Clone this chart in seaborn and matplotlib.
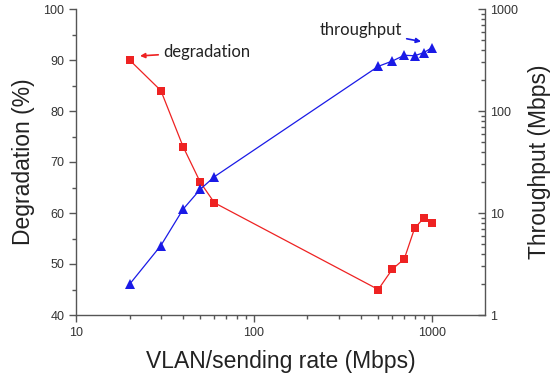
import matplotlib
matplotlib.use("Agg")
import matplotlib.pyplot as plt
import seaborn as sns
import pandas as pd
import numpy as np

rate = [20, 30, 40, 50, 60, 500, 600, 700, 800, 900, 1000]
degradation = [90, 84, 73, 66, 62, 45, 49, 51, 57, 59, 58]
throughput = [2.0, 4.8, 10.9, 17.1, 22.7, 274, 309, 352, 348, 373, 417]

df = pd.DataFrame({"rate": rate, "degradation": degradation, "throughput": throughput})

sns.set_theme(style="white")
plt.rcParams["font.family"] = ["Liberation Sans", "DejaVu Sans"]

RED = "#ee2222"
BLUE = "#1a1ae6"
AX = "#555555"

fig = plt.figure(figsize=(5.51, 3.80), dpi=100)
ax = fig.add_axes([76/551, 1-315/380, (485-76)/551, (315-9)/380])
ax2 = ax.twinx()

sns.lineplot(data=df, x="rate", y="degradation", ax=ax, color=RED, marker="s",
             markersize=6, markeredgewidth=0, linewidth=0.9, zorder=3)
sns.lineplot(data=df, x="rate", y="throughput", ax=ax2, color=BLUE, marker="^",
             markersize=7, markeredgewidth=0, linewidth=0.9, zorder=3)

ax.set_xscale("log")
ax.set_xlim(10, 1990)
ax.set_ylim(40, 100)
ax.set_yticks(np.arange(40, 101, 10))
ax.set_yticks(np.arange(45, 100, 10), minor=True)
ax2.set_yscale("log")
ax2.set_ylim(1, 1000)
ax2.set_yticks([1, 10, 100, 1000])
ax2.set_yticklabels(["1", "10", "100", "1000"])
ax.set_xticks([10, 100, 1000])
ax.set_xticklabels(["10", "100", "1000"])

for a in (ax, ax2):
    for s in a.spines.values():
        s.set_color(AX)
        s.set_linewidth(1.0)
    a.spines["top"].set_visible(False)
ax.spines["right"].set_visible(False)
ax2.spines["left"].set_visible(False)
ax2.spines["bottom"].set_visible(False)

ax.tick_params(axis="both", which="major", direction="out", length=5, width=1,
               color=AX, labelcolor="#333333", labelsize=9, left=True, bottom=True)
ax.tick_params(axis="both", which="minor", direction="out", length=3, width=1,
               color=AX, left=True, bottom=True)
ax2.tick_params(axis="y", which="major", direction="in", length=5, width=1,
                color=AX, labelcolor="#333333", labelsize=9, right=True)
ax2.tick_params(axis="y", which="minor", direction="in", length=3, width=1,
                color=AX, right=True)

ax.set_xlabel("VLAN/sending rate (Mbps)", fontsize=16.5, color="#222222", labelpad=8)
ax.set_ylabel("Degradation (%)", fontsize=16.5, color="#222222", labelpad=6)
ax2.set_ylabel("Throughput (Mbps)", fontsize=16.5, color="#222222", labelpad=7)

ax.annotate("degradation", xy=(22.9, 90.8), xytext=(30.8, 91.6),
            fontsize=12, family=["Lato", "DejaVu Sans"], color="#222222",
            va="center", ha="left",
            arrowprops=dict(arrowstyle="-|>", color=RED, lw=1.2, mutation_scale=7,
                            shrinkA=1, shrinkB=0))
ax2.annotate("throughput", xy=(870, 480), xytext=(680, 623),
             fontsize=12, family=["Lato", "DejaVu Sans"], color="#222222",
             va="center", ha="right",
             arrowprops=dict(arrowstyle="-|>", color=BLUE, lw=1.2, mutation_scale=7,
                             shrinkA=1, shrinkB=0))

fig.savefig("out.png", dpi=100)
